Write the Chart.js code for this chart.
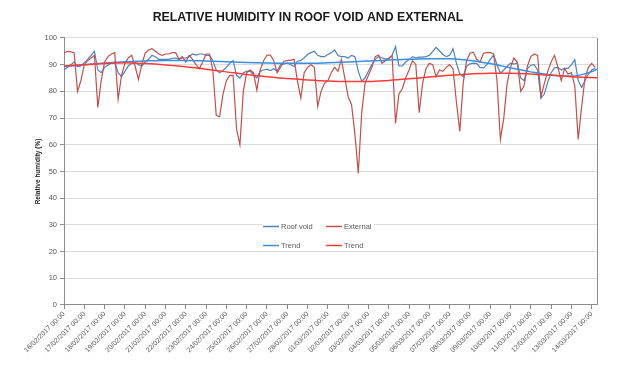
<!DOCTYPE html>
<html lang="en">
<head>
    <meta charset="UTF-8">
    <title>Relative humidity in roof void and external</title>
    <style>
        body {
            margin: 0;
            background: #fff;
        }
        #wrap {
            width: 630px;
            height: 374px;
        }
    </style>
</head>
<body>
    <div id="wrap"><canvas id="chart"></canvas></div>
    <script src="https://cdn.jsdelivr.net/npm/chart.js"></script>
    <script>
        // one reading every 4 hours, starting 16/02/2017 00:00
        const stepDays = 4 / 24;
        const lastDay = 26.26;

        const dayLabels = [
            '16/02/2017 00:00', '17/02/2017 00:00', '18/02/2017 00:00', '19/02/2017 00:00',
            '20/02/2017 00:00', '21/02/2017 00:00', '22/02/2017 00:00', '23/02/2017 00:00',
            '24/02/2017 00:00', '25/02/2017 00:00', '26/02/2017 00:00', '27/02/2017 00:00',
            '28/02/2017 00:00', '01/03/2017 00:00', '02/03/2017 00:00', '03/03/2017 00:00',
            '04/03/2017 00:00', '05/03/2017 00:00', '06/03/2017 00:00', '07/03/2017 00:00',
            '08/03/2017 00:00', '09/03/2017 00:00', '10/03/2017 00:00', '11/03/2017 00:00',
            '12/03/2017 00:00', '13/03/2017 00:00', '14/03/2017 00:00'
        ];

        const roofVoid = [
            88, 89, 90, 91, 89.3, 89.5, 90.7, 92, 93.5, 95,
            88, 87, 89, 89.8, 90.6, 91, 87, 85.5, 87.5, 89.5,
            90.5, 91, 90, 89.5, 91, 92, 93.5, 93, 92, 92,
            92, 92, 92.4, 92.5, 92, 92.5, 92.5, 93, 94, 93.6,
            94, 94, 93.5, 93.5, 91.5, 88, 87, 87.8, 89, 90.5,
            91.5, 86, 85, 86.9, 87.6, 87.5, 86.3, 85, 87.5, 88,
            88.3, 87.8, 88.5, 87.6, 90, 90.3, 90.6, 90, 89.3, 91.3,
            91.5, 92.6, 93.8, 94.5, 95, 93.5, 93, 93, 93.8, 94.5,
            95.5, 93.4, 93, 93, 92.5, 93.5, 93, 87.5, 83.8, 85,
            87.6, 90, 92, 93, 92.6, 92.2, 92.2, 93.6, 96.7, 89.5,
            89.5, 91, 91.8, 93, 92.5, 92.8, 92.8, 93, 93.5, 95,
            96.5, 95.2, 93.8, 93, 93.5, 96, 90.6, 86.5, 85.5, 89.3,
            90.3, 90.6, 90.4, 89, 88.8, 90, 92, 93.6, 90, 86.8,
            88, 89.3, 90.6, 90.2, 90.6, 85, 84, 88.5, 89.8, 90,
            88, 77.5, 79, 83.5, 87, 88.8, 89, 88, 88.6, 88.6,
            90, 91.8, 84, 81.5, 84, 86.5, 88, 88.6
        ];

        const external = [
            94.4, 95, 94.8, 94.5, 80, 84, 90, 91.5, 92.5, 93.5,
            74, 84, 91, 93, 94, 94.5, 77, 86, 90.5, 92.5,
            93.5, 89.5, 84.5, 90, 94.3, 95.5, 96, 95, 94, 93.5,
            94, 94, 94.5, 94.5, 92, 93, 91, 93.5, 92, 90,
            88.5, 91, 94, 94, 88, 71, 70.5, 79, 84, 86,
            86, 66, 60, 80, 87, 88, 87, 80.5, 88, 91.5,
            93.6, 93.6, 91.5, 87, 89, 91.3, 91.5, 91.7, 92, 84,
            77.5, 87, 89, 90, 89, 74.5, 80, 83, 84, 87,
            89, 87.5, 92, 85, 78, 75, 64, 49.3, 72, 83,
            86, 89, 93, 93.6, 90.5, 91.5, 92.4, 93.3, 68, 79,
            81, 85, 88, 91.5, 90, 72, 83, 88.5, 90.5, 90,
            85.5, 88, 87.5, 89, 90, 88.5, 76, 65, 83, 91.5,
            94.3, 94.7, 92, 91, 94.3, 94.5, 94.5, 94, 84, 62,
            70, 83, 89, 92.5, 91, 80, 82, 89.5, 93, 94,
            93.5, 78, 83, 87.5, 91, 93.5, 89, 84, 88.6, 86.5,
            87, 82, 62, 74, 85, 89, 90.5, 89
        ];

        // polynomial trend lines, read once a day (last value at the end of the axis)
        const trendRoofVoid = [
            89.3, 90, 90.6, 91.1, 91.4, 91.6, 91.6, 91.4, 91.1, 90.8,
            90.6, 90.5, 90.5, 90.7, 91, 91.4, 91.7, 92, 92.2, 92.2,
            91.6, 90.4, 88.8, 87.3, 86.1, 85.7, 87.4, 88.3
        ];
        const trendExternal = [
            89.5, 90, 90.4, 90.7, 90.4, 89.9, 89.2, 88.3, 87.3, 86.3,
            85.5, 84.8, 84.3, 83.9, 83.7, 83.7, 84.1, 84.7, 85.4, 86,
            86.5, 86.8, 86.8, 86.5, 86, 85.5, 85.2, 85.1
        ];

        const colours = {
            roofVoid: '#4F81BD',
            external: '#C0504D',
            trendRoofVoid: '#3A8EDB',
            trendExternal: '#FF3B3B'
        };

        const FONT = "'Liberation Sans', Arial, sans-serif";

        function stepped(values) {
            return values.map((v, i) => ({ x: i * stepDays, y: v }));
        }
        function daily(values) {
            return values.map((v, i) => ({ x: Math.min(i, lastDay), y: v }));
        }

        // legend sits inside the plot, boxed in white
        const legendInside = {
            id: 'legendInside',
            afterDatasetsDraw(chart) {
                const c = chart.ctx;
                c.save();
                c.fillStyle = '#fff';
                c.fillRect(262, 217, 112, 33);
                const items = [
                    ['Roof void', colours.roofVoid, 263, 226],
                    ['External', colours.external, 326, 226],
                    ['Trend', colours.trendRoofVoid, 263, 245],
                    ['Trend', colours.trendExternal, 326, 245]
                ];
                c.font = '7.5px ' + FONT;
                c.textBaseline = 'middle';
                items.forEach(([text, col, x, y]) => {
                    c.strokeStyle = col;
                    c.lineWidth = 1.5;
                    c.beginPath();
                    c.moveTo(x, y + 0.5);
                    c.lineTo(x + 16, y + 0.5);
                    c.stroke();
                    c.fillStyle = '#595959';
                    c.fillText(text, x + 18, y + 0.5);
                });
                // right edge of the plot frame
                const a = chart.chartArea;
                c.strokeStyle = '#8c8c8c';
                c.lineWidth = 1;
                c.beginPath();
                c.moveTo(a.right + 0.5, a.top);
                c.lineTo(a.right + 0.5, a.bottom);
                c.stroke();
                c.restore();
            }
        };

        const ctx = document.getElementById('chart').getContext('2d');
        const chart = new Chart(ctx, {
            type: 'line',
            data: {
                datasets: [
                    {
                        label: 'Roof void',
                        data: stepped(roofVoid),
                        borderColor: colours.roofVoid,
                        borderWidth: 1.2,
                        order: 3
                    },
                    {
                        label: 'External',
                        data: stepped(external),
                        borderColor: colours.external,
                        borderWidth: 1.2,
                        order: 2
                    },
                    {
                        label: 'Trend',
                        data: daily(trendRoofVoid),
                        borderColor: colours.trendRoofVoid,
                        borderWidth: 1.5,
                        cubicInterpolationMode: 'monotone',
                        order: 1
                    },
                    {
                        label: 'Trend',
                        data: daily(trendExternal),
                        borderColor: colours.trendExternal,
                        borderWidth: 1.5,
                        cubicInterpolationMode: 'monotone',
                        order: 0
                    }
                ]
            },
            options: {
                responsive: true,
                maintainAspectRatio: false,
                animation: false,
                layout: { padding: { left: 19, right: 33, top: 0, bottom: 0 } },
                elements: {
                    point: { radius: 0 },
                    line: { tension: 0, fill: false }
                },
                plugins: {
                    legend: { display: false },
                    tooltip: { enabled: false },
                    title: {
                        display: true,
                        text: 'RELATIVE HUMIDITY IN ROOF VOID AND EXTERNAL',
                        color: '#1a1a1a',
                        font: { family: FONT, size: 12.3, weight: 'bold', lineHeight: 1.2 },
                        padding: { top: 10, bottom: 13.2 }
                    }
                },
                scales: {
                    x: {
                        type: 'linear',
                        min: 0,
                        max: lastDay,
                        afterBuildTicks: (s) => {
                            s.ticks = dayLabels.map((_, i) => ({ value: i }));
                        },
                        afterFit: (s) => { s.height = 69; },
                        border: { color: '#8c8c8c' },
                        grid: {
                            drawOnChartArea: false,
                            tickLength: 4,
                            color: '#8c8c8c'
                        },
                        ticks: {
                            autoSkip: false,
                            minRotation: 45,
                            maxRotation: 45,
                            padding: 1,
                            color: '#595959',
                            font: { family: FONT, size: 7 },
                            callback: (v) => dayLabels[v]
                        }
                    },
                    y: {
                        min: 0,
                        max: 100,
                        afterFit: (s) => { s.width = 45; },
                        border: { color: '#8c8c8c' },
                        grid: {
                            color: '#dcdcdc',
                            tickColor: '#8c8c8c',
                            tickLength: 4
                        },
                        ticks: {
                            stepSize: 10,
                            padding: 3,
                            color: '#595959',
                            font: { family: FONT, size: 7.5 }
                        },
                        title: {
                            display: true,
                            text: 'Relative humidity (%)',
                            color: '#1a1a1a',
                            font: { family: FONT, size: 6.5, weight: 'bold' },
                            padding: { top: 15, bottom: 0 }
                        }
                    }
                }
            },
            plugins: [legendInside]
        });
    </script>
</body>
</html>
